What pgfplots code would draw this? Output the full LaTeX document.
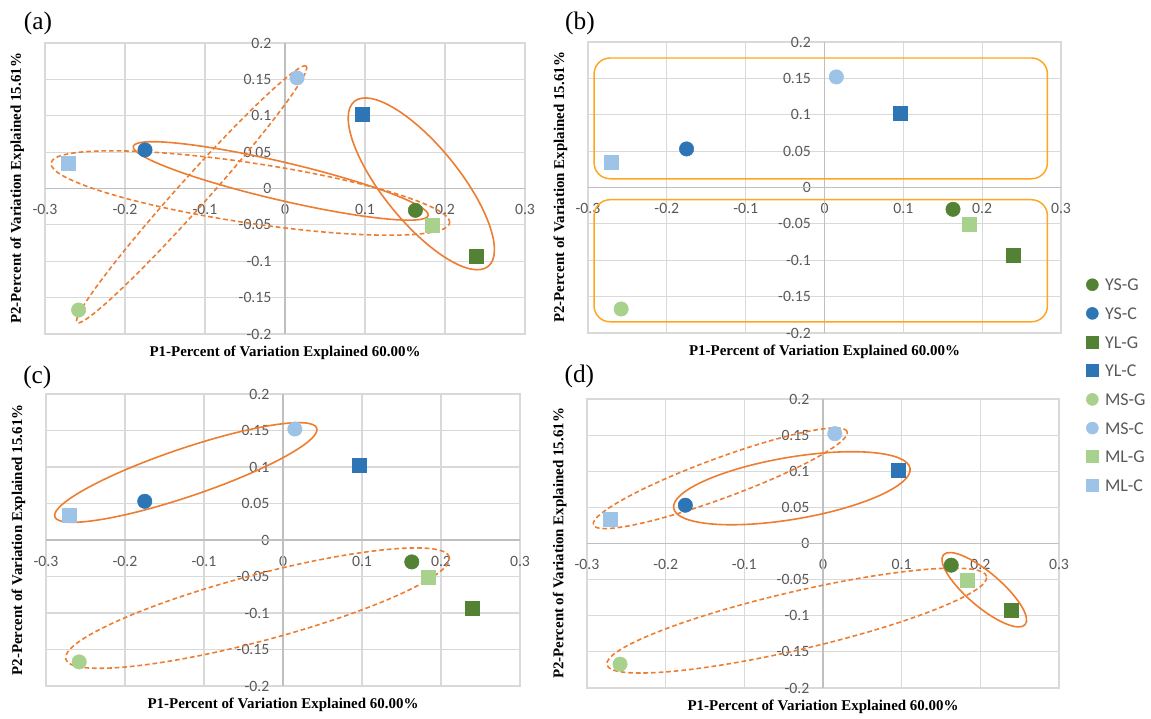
\documentclass[border=0pt]{standalone}
\usepackage{fontspec}
\setmainfont{Liberation Serif}
\newfontfamily\calibri{Carlito}
\usepackage{pgfplots}
\pgfplotsset{compat=1.18}

\definecolor{dkgreen}{HTML}{548235}
\definecolor{dkblue}{HTML}{2E75B6}
\definecolor{ltgreen}{HTML}{A9D18E}
\definecolor{ltblue}{HTML}{9DC3E6}
\definecolor{ellorange}{HTML}{ED7D31}
\definecolor{boxorange}{HTML}{FFA51F}
\definecolor{gridgray}{HTML}{D9D9D9}
\definecolor{zerogray}{HTML}{BFBFBF}
\definecolor{ticktext}{HTML}{595959}

\newcommand{\tickfont}{\calibri\fontsize{11.8}{13}\selectfont}
\newcommand{\legfont}{\calibri\fontsize{13.5}{15}\selectfont}
\newcommand{\labfont}{\bfseries\fontsize{11.2}{13}\selectfont}

% width, height, ytick label xshift, xtick label yshift
\pgfplotsset{
  pca/.style n args={4}{
    scale only axis, width=#1, height=#2,
    xmin=-0.3, xmax=0.3, ymin=-0.2, ymax=0.2,
    xtick={-0.3,-0.2,-0.1,0,0.1,0.2,0.3},
    xticklabels={-0.3,-0.2,-0.1,0,0.1,0.2,0.3},
    ytick={-0.2,-0.15,-0.1,-0.05,0,0.05,0.1,0.15,0.2},
    yticklabels={-0.2,-0.15,-0.1,-0.05,0,0.05,0.1,0.15,0.2},
    major tick length=0pt,
    grid=major, major grid style={gridgray, line width=0.9pt},
    axis line style={gridgray, line width=0.9pt},
    tick label style={font=\tickfont, text=ticktext, inner sep=0pt},
    xticklabel style={anchor=north, yshift=#4},
    yticklabel style={anchor=east, xshift=#3},
    xlabel={P1-Percent of Variation Explained 60.00\%},
    ylabel={P2-Percent of Variation Explained 15.61\%},
    label style={font=\labfont},
    xlabel style={at={(axis description cs:0.5,-0.065)}, anchor=center},
    ylabel style={at={(axis description cs:-0.058,0.5)}, anchor=center},
    clip=false,
  },
}
\tikzset{dsh/.style={dash pattern=on 3.5pt off 2.2pt}}

% the eight samples, same in every panel
\newcommand{\pts}{%
  \addplot[only marks, mark=*, mark size=5.4pt, dkgreen] coordinates {(0.163,-0.030)};
  \addplot[only marks, mark=*, mark size=5.4pt, dkblue] coordinates {(-0.175,0.053)};
  \addplot[only marks, mark=square*, mark size=5.25pt, dkgreen] coordinates {(0.239,-0.093)};
  \addplot[only marks, mark=square*, mark size=5.25pt, dkblue] coordinates {(0.096,0.102)};
  \addplot[only marks, mark=*, mark size=5.4pt, ltgreen] coordinates {(-0.258,-0.167)};
  \addplot[only marks, mark=*, mark size=5.4pt, ltblue] coordinates {(0.015,0.152)};
  \addplot[only marks, mark=square*, mark size=5.25pt, ltgreen] coordinates {(0.184,-0.051)};
  \addplot[only marks, mark=square*, mark size=5.25pt, ltblue] coordinates {(-0.271,0.034)};
}
\newcommand{\zerolines}{%
  \draw[zerogray, line width=0.9pt] (axis cs:-0.3,0) -- (axis cs:0.3,0) (axis cs:0,-0.2) -- (axis cs:0,0.2);}
% cx, cy, angle, semi-major (pt), semi-minor (pt), style
\newcommand{\grp}[6]{%
  \draw[ellorange, line width=1.2pt, #6, rotate around={#3:(axis cs:#1,#2)}] (axis cs:#1,#2) ellipse [x radius=#4pt, y radius=#5pt];}

\begin{document}
\begin{tikzpicture}
\useasboundingbox (0,0) rectangle (863.25pt,538.5pt);

% (a)
\begin{axis}[pca={360pt}{218.25pt}{170pt}{97.125pt}, at={(33.75pt,288pt)}, anchor=south west]
\zerolines
\pts
\grp{-0.1167}{-0.008}{48.2}{129}{11}{dsh}
\grp{-0.0433}{-0.0062}{-8.56}{151.2}{22.5}{dsh}
\grp{-0.0053}{0.0104}{-13.2}{113.6}{14.25}{solid}
\grp{0.1704}{0.0064}{-50.96}{79.65}{28.5}{solid}
\end{axis}

% (b)
\begin{axis}[pca={354.75pt}{218.25pt}{167.375pt}{97.125pt}, at={(441pt,288.75pt)}, anchor=south west,
  legend entries={YS-G,YS-C,YL-G,YL-C,MS-G,MS-C,ML-G,ML-C},
  legend image code/.code={\draw[#1, mark size=4.5pt] plot coordinates {(0pt,0pt)};},
  legend style={draw=none, fill=none, font=\legfont, text=ticktext, inner sep=0pt,
    nodes={inner sep=1pt, text height=9pt, text depth=0pt},
    row sep=10.5pt, /tikz/every odd column/.append style={column sep=4pt},
    at={(1.053,0.192)}, anchor=north west},
  legend cell align=left]
\zerolines
\pts
\draw[boxorange, line width=1.1pt, rounded corners=12pt] (axis cs:-0.2923,0.012) rectangle (axis cs:0.2828,0.178);
\draw[boxorange, line width=1.1pt, rounded corners=12pt] (axis cs:-0.2923,-0.1846) rectangle (axis cs:0.2828,-0.0168);
\end{axis}

% (c)
\begin{axis}[pca={355.5pt}{219pt}{167.75pt}{97.5pt}, at={(34.5pt,24pt)}, anchor=south west]
\zerolines
\pts
\grp{-0.123}{0.0925}{18.7}{103.7}{18}{solid}
\grp{-0.0322}{-0.0933}{14.9}{148.9}{24.75}{dsh}
\end{axis}

% (d)
\begin{axis}[pca={354pt}{216.75pt}{167pt}{96.375pt}, at={(440.25pt,22.5pt)}, anchor=south west]
\zerolines
\pts
\grp{-0.1306}{0.0903}{20.2}{101.4}{15}{dsh}
\grp{-0.0396}{0.0765}{9.6}{89.9}{23.25}{solid}
\grp{-0.0333}{-0.1067}{13.1}{146.2}{21.75}{dsh}
\grp{0.205}{-0.064}{-40.5}{40.3}{12.75}{solid}
\end{axis}

\node[font=\fontsize{19}{21}\selectfont] at (28.5pt,521pt) {(a)};
\node[font=\fontsize{19}{21}\selectfont] at (435pt,521pt) {(b)};
\node[font=\fontsize{19}{21}\selectfont] at (28pt,255.5pt) {(c)};
\node[font=\fontsize{19}{21}\selectfont] at (434.5pt,256.5pt) {(d)};
\end{tikzpicture}
\end{document}
